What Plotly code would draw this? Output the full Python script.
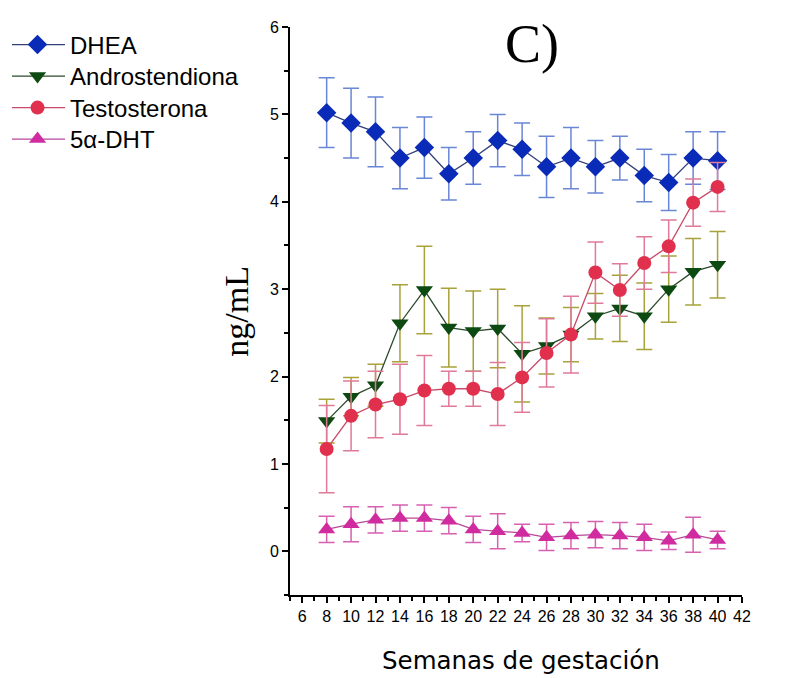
import plotly.graph_objects as go

weeks = [8, 10, 12, 14, 16, 18, 20, 22, 24, 26, 28, 30, 32, 34, 36, 38, 40]

dhea = [5.02, 4.9, 4.8, 4.5, 4.62, 4.32, 4.5, 4.7, 4.6, 4.4, 4.5, 4.4, 4.5, 4.3, 4.22, 4.5, 4.47]
dhea_err = [0.4, 0.4, 0.4, 0.35, 0.35, 0.3, 0.3, 0.3, 0.3, 0.35, 0.35, 0.3, 0.25, 0.3, 0.32, 0.3, 0.33]

andro = [1.49, 1.77, 1.9, 2.61, 2.99, 2.56, 2.52, 2.55, 2.26, 2.35, 2.48, 2.69, 2.78, 2.69, 3.0, 3.2, 3.28]
andro_err = [0.25, 0.22, 0.24, 0.44, 0.5, 0.45, 0.46, 0.45, 0.55, 0.32, 0.31, 0.26, 0.38, 0.38, 0.38, 0.38, 0.38]

testo = [1.17, 1.55, 1.68, 1.74, 1.84, 1.86, 1.86, 1.8, 1.99, 2.27, 2.48, 3.19, 2.99, 3.3, 3.49, 3.99, 4.17]
testo_err = [0.5, 0.4, 0.38, 0.4, 0.4, 0.2, 0.2, 0.36, 0.4, 0.39, 0.44, 0.35, 0.3, 0.3, 0.3, 0.27, 0.28]

dht = [0.25, 0.31, 0.36, 0.38, 0.38, 0.35, 0.25, 0.23, 0.21, 0.16, 0.18, 0.19, 0.18, 0.16, 0.12, 0.19, 0.13]
dht_err = [0.15, 0.2, 0.15, 0.15, 0.15, 0.15, 0.15, 0.2, 0.1, 0.15, 0.15, 0.15, 0.15, 0.15, 0.1, 0.2, 0.1]

x_ticks = list(range(6, 43, 2))

series = [
    ("DHEA", dhea, dhea_err, "#0a2ab8", "#6a86d6", "#34407a", "diamond", 15),
    ("Androstendiona", andro, andro_err, "#0d4a12", "#a8a23a", "#2c4a2c", "triangle-down", 15),
    ("Testosterona", testo, testo_err, "#e0304e", "#e07a98", "#c84a68", "circle", 14),
    ("5α-DHT", dht, dht_err, "#d02ca0", "#d860b0", "#b84898", "triangle-up", 15),
]

legend_ids = ["legend", "legend2", "legend3", "legend4"]
legend_centers_px = [45, 76.5, 108, 139.5]
plot_top, plot_h = 27, 568

fig = go.Figure()
for (name, vals, errs, mcol, ecol, lcol, sym, size), lid in zip(series, legend_ids):
    fig.add_trace(go.Scatter(
        x=weeks, y=vals, name=name, mode="lines+markers", legend=lid,
        line=dict(color=lcol, width=1.3),
        marker=dict(symbol=sym, size=size, color=mcol, line=dict(width=0)),
        error_y=dict(type="data", array=errs, visible=True, color=ecol,
                     thickness=1.5, width=8),
    ))

legend_layout = {}
for lid, cy in zip(legend_ids, legend_centers_px):
    legend_layout[lid] = dict(
        x=-0.615, y=1 - (cy - plot_top) / plot_h, xanchor="left", yanchor="middle",
        font=dict(size=24, family="Liberation Sans, Arial, sans-serif", color="black"),
        itemwidth=55, bgcolor="rgba(0,0,0,0)", indentation=-7,
    )

fig.update_layout(
    width=798, height=678,
    margin=dict(l=285, r=56, t=27, b=83),
    paper_bgcolor="white", plot_bgcolor="white",
    font=dict(family="Liberation Sans, Arial, sans-serif", color="black"),
    showlegend=True,
    annotations=[
        dict(text="C)", x=0.536, y=0.97, xref="paper", yref="paper",
             xanchor="center", yanchor="middle", showarrow=False,
             font=dict(family="Liberation Serif, Times New Roman, serif", size=54)),
        dict(text="ng/mL", x=-0.12, y=0.50, xref="paper", yref="paper",
             xanchor="center", yanchor="middle", textangle=-90, showarrow=False,
             font=dict(family="Liberation Serif, Times New Roman, serif", size=34)),
        dict(text="Semanas de gestación", x=0.51, y=-0.115, xref="paper", yref="paper",
             xanchor="center", yanchor="middle", showarrow=False,
             font=dict(family="DejaVu Sans, sans-serif", size=24.5)),
    ],
    **legend_layout,
)

fig.update_xaxes(
    range=[5, 42], tickvals=x_ticks, ticktext=[str(v) for v in x_ticks],
    showline=True, linecolor="black", linewidth=2, mirror=False,
    ticks="outside", ticklen=6, tickwidth=1.5, tickcolor="black",
    minor=dict(dtick=1, tick0=5, ticks="outside", ticklen=4, tickwidth=1.5, tickcolor="black"),
    showgrid=False, zeroline=False,
    tickfont=dict(size=16, family="Liberation Sans, Arial, sans-serif"),
)
fig.update_yaxes(
    range=[-0.5, 6], dtick=1, tick0=0,
    showline=True, linecolor="black", linewidth=2,
    ticks="outside", ticklen=6, tickwidth=1.5, tickcolor="black",
    minor=dict(dtick=0.5, tick0=0, ticks="outside", ticklen=4, tickwidth=1.5, tickcolor="black"),
    showgrid=False, zeroline=False,
    tickfont=dict(size=16, family="Liberation Sans, Arial, sans-serif"),
)

fig.write_html("out.html")
